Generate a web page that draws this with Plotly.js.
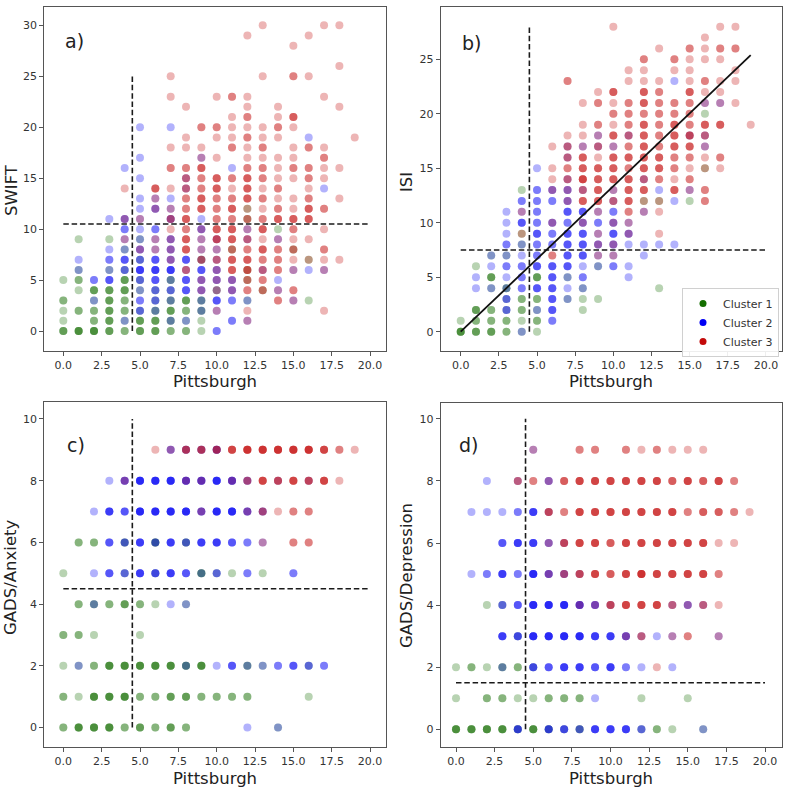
<!DOCTYPE html>
<html><head><meta charset="utf-8">
<script src="https://cdn.plot.ly/plotly-3.0.1.min.js"></script>
<style>html,body{margin:0;padding:0;background:#fff}#chart{width:789px;height:789px}</style>
</head><body><div id="chart"></div>
<script>
// ---- data: [Pittsburgh, score, count] per cluster ----
const swiftC1 = [[0,0,3],[1,0,4],[2,0,4],[3,0,3],[4,0,2],[5,0,3],[6,0,3],[7,0,2],[8,0,2],[9,0,1],
[0,1,1],[2,1,2],[3,1,3],[4,1,1],[5,1,3],[6,1,3],[7,1,2],[8,1,1],[9,1,1],
[0,2,1],[1,2,2],[2,2,2],[3,2,3],[4,2,2],[5,2,1],[6,2,2],[7,2,3],[8,2,2],[9,2,2],
[0,3,2],[2,3,1],[3,3,3],[4,3,2],[6,3,1],[7,3,2],[8,3,3],[9,3,2],[12,3,1],[16,3,1],
[1,4,1],[2,4,3],[3,4,3],[4,4,3],[5,4,1],[6,4,1],[7,4,1],[10,4,1],[13,4,1],
[0,5,1],[1,5,2],[4,5,3],[5,5,1],[7,5,2],[12,5,1],
[1,6,1],[3,6,1],[4,6,1],[12,6,1],[5,7,1],[9,7,1],[16,7,1],[4,8,1],[11,8,1],[15,8,1],
[1,9,1],[3,9,1],[5,9,1],[14,10,1],[12,11,1],[12,12,1]];
const swiftC2 = [[10,0,2],[4,1,1],[7,1,1],[8,1,1],[11,1,2],[12,1,1],
[5,2,2],[6,2,1],[9,2,1],[10,2,1],
[2,3,1],[5,3,2],[6,3,2],[7,3,1],[9,3,1],[10,3,3],[11,3,2],[12,3,1],[15,3,1],
[5,4,1],[6,4,2],[7,4,2],[8,4,3],[9,4,2],[10,4,1],[11,4,2],[14,4,1],
[2,5,2],[3,5,3],[5,5,2],[6,5,3],[7,5,1],[8,5,3],[9,5,2],[10,5,2],[11,5,2],[14,5,1],
[1,6,1],[3,6,1],[4,6,2],[5,6,4],[6,6,4],[7,6,4],[8,6,1],[9,6,3],[10,6,2],[13,6,1],[15,6,1],[16,6,1],[17,6,1],
[1,7,1],[3,7,2],[4,7,3],[5,7,2],[6,7,3],[7,7,2],[8,7,3],[9,7,1],[10,7,1],
[3,8,1],[4,8,1],[5,8,2],[6,8,1],[7,8,2],[9,8,1],[10,8,1],
[4,9,1],[5,9,1],[6,9,1],[7,9,2],[9,9,1],[10,9,1],[12,9,1],[14,9,1],
[4,10,2],[5,10,1],[6,10,2],[9,10,2],[12,10,1],
[3,11,1],[4,11,2],[5,11,1],[7,11,2],[9,11,1],
[5,12,1],[6,12,2],[7,12,1],[5,13,1],[6,13,1],[7,13,1],
[8,14,1],[17,14,1],[5,15,1],[8,15,1],[4,16,1],[11,16,1],[5,17,1],[9,17,1],[16,19,1],[5,20,1],[7,20,1]];
const swiftC3 = [[12,1,1],[10,2,1],[12,2,1],[17,2,1],[14,3,2],[15,3,1],
[9,4,1],[10,4,1],[11,4,1],[12,4,2],[13,4,2],[14,4,1],[15,4,2],
[9,5,1],[10,5,1],[11,5,1],[12,5,2],[13,5,2],
[8,6,2],[10,6,1],[11,6,3],[12,6,3],[13,6,2],[14,6,2],[15,6,1],[17,6,1],
[7,7,1],[9,7,2],[10,7,2],[11,7,3],[12,7,3],[13,7,2],[14,7,2],[15,7,1],[16,7,1],[17,7,1],[18,7,1],
[5,8,1],[6,8,1],[7,8,1],[8,8,3],[9,8,1],[10,8,1],[11,8,2],[12,8,2],[13,8,3],[14,8,2],[15,8,2],[17,8,2],
[4,9,1],[6,9,1],[7,9,1],[8,9,3],[9,9,1],[10,9,3],[11,9,3],[12,9,2],[13,9,1],[14,9,1],[15,9,1],[16,9,1],
[7,10,1],[8,10,2],[9,10,1],[10,10,3],[11,10,3],[12,10,1],[13,10,3],[15,10,2],[17,10,1],
[4,11,1],[5,11,1],[7,11,2],[8,11,3],[10,11,2],[11,11,2],[12,11,2],[13,11,2],[14,11,3],[15,11,3],[16,11,3],
[6,12,1],[7,12,1],[8,12,2],[9,12,3],[10,12,2],[11,12,3],[12,12,1],[13,12,1],[14,12,2],[15,12,1],[16,12,3],[17,12,2],
[6,13,1],[8,13,2],[9,13,3],[10,13,2],[11,13,2],[12,13,3],[13,13,2],[14,13,1],[15,13,1],[16,13,2],[18,13,1],
[4,14,1],[6,14,3],[7,14,1],[8,14,2],[9,14,2],[10,14,3],[11,14,1],[12,14,3],[13,14,1],[14,14,2],[16,14,1],
[8,15,2],[9,15,2],[10,15,3],[11,15,2],[12,15,3],[13,15,2],[14,15,1],[15,15,1],[16,15,2],[17,15,1],
[7,16,2],[8,16,2],[9,16,3],[12,16,2],[13,16,2],[14,16,1],[15,16,2],[16,16,2],[17,16,1],[18,16,1],
[9,17,1],[10,17,1],[12,17,1],[13,17,1],[14,17,1],[15,17,1],[17,17,2],
[7,18,1],[8,18,1],[9,18,1],[11,18,2],[12,18,1],[13,18,2],[15,18,1],[16,18,2],[17,18,1],
[8,19,1],[10,19,1],[11,19,1],[12,19,2],[13,19,1],[14,19,1],[19,19,1],
[9,20,2],[10,20,2],[11,20,1],[12,20,1],[13,20,1],[14,20,2],[15,20,1],
[11,21,1],[12,21,2],[14,21,1],[15,21,3],[8,22,1],[12,22,1],[14,22,1],[18,22,1],
[7,23,1],[10,23,1],[11,23,2],[12,23,1],[17,23,1],[7,25,1],[13,25,1],[15,25,2],[16,25,1],
[18,26,1],[15,28,1],[12,29,1],[16,29,1],[13,30,1],[17,30,1],[18,30,1]];

const isiC1 = [[0,0,4],[1,0,3],[2,0,3],[3,0,2],[4,0,1],[5,0,1],
[0,1,1],[1,1,2],[2,1,2],[3,1,2],[4,1,1],[5,1,2],
[1,2,3],[2,2,2],[3,2,1],[4,2,2],[5,2,1],[8,2,1],
[3,3,1],[4,3,2],[5,3,2],[7,3,1],[8,3,1],[9,3,1],
[2,4,1],[3,4,2],[8,4,1],[13,4,1],[2,5,3],[5,5,3],[7,5,1],[1,6,1],[9,6,1],[2,7,1],[3,7,1],
[4,8,1],[4,9,1],[12,12,1],[13,12,1],[15,12,1],[4,13,1],[16,15,1],[16,20,1]];
const isiC2 = [[4,0,1],[6,1,2],[3,2,2],[5,2,1],[6,2,3],[3,3,2],[6,3,3],[7,3,1],
[1,4,1],[2,4,1],[3,4,1],[4,4,2],[5,4,3],[6,4,3],[7,4,1],[8,4,1],
[1,5,1],[3,5,1],[4,5,2],[6,5,3],[7,5,1],[8,5,2],[11,5,1],
[2,6,1],[3,6,2],[4,6,2],[5,6,3],[6,6,3],[7,6,3],[8,6,1],[9,6,1],[10,6,2],[11,6,1],
[2,7,1],[3,7,1],[4,7,1],[5,7,2],[7,7,3],[8,7,3],[9,7,1],[10,7,1],[12,7,1],
[3,8,2],[4,8,1],[5,8,2],[6,8,2],[7,8,3],[8,8,3],[9,8,2],[10,8,2],[11,8,1],[12,8,1],[13,8,1],[14,8,1],
[3,9,1],[5,9,3],[6,9,2],[7,9,3],[8,9,3],[9,9,1],[10,9,3],[11,9,2],
[3,10,1],[4,10,3],[5,10,2],[6,10,2],[7,10,2],[8,10,2],[9,10,2],[10,10,2],[11,10,1],
[3,11,1],[4,11,1],[5,11,2],[7,11,3],[8,11,3],[9,11,1],[10,11,2],[12,11,1],
[4,12,2],[5,12,2],[6,12,2],[7,12,2],[10,12,1],[14,12,1],
[5,13,2],[6,13,2],[7,13,2],[8,13,1],[10,13,1],[13,13,1],[15,13,1],
[5,15,1],[7,14,1],[12,14,1],[7,16,1],[7,17,1],[8,17,1],[9,17,1],[10,17,1],[16,17,1],
[9,18,1],[11,18,1],[15,18,1],[16,18,1],[16,21,1],[17,21,1],[14,23,1]];
const isiC3 = [[6,7,2],[9,7,1],[10,7,1],[9,8,1],[10,8,1],[4,9,1],[9,9,1],[11,9,1],[13,9,1],
[6,10,1],[8,10,1],[10,10,1],[11,10,1],[4,11,1],[9,11,1],[11,11,2],[12,11,1],[13,11,1],
[7,12,1],[8,12,3],[9,12,3],[10,12,2],[11,12,3],[12,12,1],[13,12,1],[16,12,2],
[6,13,1],[7,13,1],[8,13,2],[9,13,3],[10,13,1],[11,13,3],[12,13,3],[14,13,3],[15,13,1],[16,13,2],
[6,14,1],[7,14,2],[8,14,4],[9,14,3],[10,14,3],[11,14,3],[12,14,2],[13,14,2],[14,14,1],[15,14,2],
[6,15,1],[7,15,2],[8,15,3],[9,15,3],[10,15,3],[11,15,2],[12,15,3],[13,15,3],[14,15,2],[15,15,1],[16,15,1],[17,15,1],
[7,16,2],[8,16,3],[9,16,1],[10,16,3],[11,16,3],[12,16,3],[13,16,3],[14,16,2],[15,16,2],[16,16,1],[17,16,2],
[6,17,1],[7,17,2],[8,17,1],[9,17,2],[10,17,1],[11,17,2],[12,17,3],[13,17,2],[14,17,3],[15,17,3],[16,17,1],
[7,18,1],[8,18,1],[9,18,1],[10,18,3],[11,18,2],[12,18,3],[13,18,2],[14,18,3],[15,18,3],[16,18,2],
[8,19,1],[9,19,2],[10,19,1],[11,19,2],[12,19,3],[13,19,2],[14,19,3],[15,19,2],[16,19,3],[17,19,3],[19,19,1],
[10,20,2],[11,20,2],[12,20,2],[13,20,2],[14,20,2],[15,20,2],
[8,21,1],[9,21,2],[10,21,1],[11,21,2],[12,21,3],[13,21,2],[14,21,2],[15,21,2],[16,21,1],[17,21,1],[18,21,1],
[9,22,1],[10,22,3],[12,22,3],[13,22,2],[15,22,3],[16,22,1],[17,22,1],
[7,23,2],[11,23,1],[12,23,1],[13,23,1],[15,23,1],[16,23,2],[17,23,1],[18,23,1],
[11,24,1],[12,24,1],[14,24,1],[15,24,1],[18,24,1],
[12,25,2],[14,25,2],[15,25,1],[16,25,1],[17,25,1],
[13,26,1],[15,26,2],[16,26,1],[17,26,2],[18,26,2],[16,27,1],[10,28,1],[17,28,1],[18,28,1]];

const anxC1 = [[0,0,2],[1,0,4],[2,0,4],[3,0,4],[4,0,2],[5,0,3],[6,0,2],[7,0,3],[8,0,2],[14,0,1],
[0,1,2],[1,1,1],[2,1,4],[3,1,4],[4,1,4],[5,1,2],[6,1,2],[7,1,3],[8,1,3],[9,1,2],[10,1,2],[11,1,2],[12,1,2],[16,1,1],
[0,2,1],[1,2,1],[2,2,2],[3,2,4],[4,2,4],[5,2,4],[6,2,4],[7,2,4],[8,2,3],[9,2,4],[12,2,2],[13,2,1],[16,2,1],
[0,3,2],[1,3,2],[2,3,1],[5,3,1],
[1,4,2],[2,4,2],[3,4,2],[4,4,3],[5,4,2],[6,4,1],[8,4,1],
[0,5,1],[4,5,1],[6,5,1],[9,5,3],[10,5,1],[11,5,1],[13,5,1],
[1,6,2],[2,6,2],[4,6,2],[6,6,3],[8,6,2]];
const anxC2 = [[12,0,1],[14,0,1],
[1,2,1],[8,2,1],[10,2,1],[11,2,3],[12,2,1],[13,2,1],[14,2,2],[15,2,3],[16,2,2],[17,2,2],
[2,4,1],[7,4,1],[8,4,1],
[2,5,1],[3,5,3],[4,5,2],[5,5,4],[6,5,3],[7,5,4],[8,5,3],[9,5,1],[10,5,2],[12,5,2],[15,5,2],
[3,6,3],[4,6,2],[5,6,4],[6,6,2],[7,6,4],[8,6,2],[9,6,4],[10,6,4],[11,6,3],[12,6,2],[13,6,1],
[2,7,1],[3,7,4],[4,7,3],[5,7,5],[6,7,5],[7,7,5],[8,7,5],[9,7,3],[10,7,5],[11,7,5],[12,7,3],[13,7,2],
[3,8,1],[4,8,3],[5,8,5],[6,8,5],[7,8,5],[8,8,4],[9,8,4],[10,8,5],[11,8,4],[12,8,2],[14,8,1],[16,8,1],
[7,9,2],[8,9,2],[9,9,2],[10,9,3]];
const anxC3 = [[13,6,1],[15,6,2],[16,6,2],
[9,7,1],[12,7,1],[13,7,2],[14,7,1],[15,7,2],[16,7,2],
[4,8,1],[8,8,1],[9,8,1],[11,8,1],[12,8,2],[13,8,4],[14,8,3],[15,8,4],[16,8,3],[17,8,4],[18,8,1],
[6,9,1],[7,9,1],[8,9,3],[9,9,3],[10,9,3],[11,9,4],[12,9,5],[13,9,5],[14,9,5],[15,9,5],[16,9,5],[17,9,4],[18,9,2],[19,9,1]];

const depC1 = [[0,0,4],[1,0,4],[2,0,4],[3,0,4],[4,0,2],[5,0,4],[6,0,2],[7,0,1],[8,0,2],[12,0,1],[13,0,2],[14,0,1],[16,0,1],
[0,1,1],[2,1,2],[3,1,2],[4,1,1],[5,1,1],[6,1,2],[7,1,2],[8,1,2],[12,1,1],[15,1,1],
[0,2,1],[1,2,2],[2,2,1],[3,2,2],[4,2,2],[5,2,1],[2,4,1],[3,4,1],[4,3,1]];
const depC2 = [[4,0,3],[6,0,3],[7,0,3],[8,0,2],[9,0,4],[10,0,4],[11,0,4],[12,0,2],[16,0,1],[9,1,1],
[3,2,1],[5,2,3],[6,2,3],[7,2,4],[8,2,4],[9,2,3],[10,2,4],[11,2,2],[12,2,1],[14,2,1],
[3,3,4],[4,3,3],[5,3,5],[6,3,5],[7,3,5],[8,3,5],[9,3,4],[10,3,4],[11,3,3],[12,3,1],[13,3,1],[14,3,1],[17,3,1],
[3,4,2],[4,4,3],[5,4,5],[6,4,5],[7,4,5],[8,4,4],[9,4,3],[10,4,1],[14,4,1],[15,4,2],[16,4,1],
[1,5,1],[2,5,2],[3,5,4],[4,5,2],[5,5,5],[6,5,3],[7,5,2],[8,5,1],
[3,6,3],[4,6,4],[5,6,4],[6,6,2],[7,6,1],
[1,7,1],[2,7,1],[3,7,1],[4,7,2],[5,7,4],[6,7,1],[2,8,1],[4,8,1],[6,8,2],[5,9,1]];
const depC3 = [[13,2,1],[11,3,1],[12,3,2],[14,3,1],[15,3,2],[17,3,1],
[8,4,1],[9,4,1],[10,4,3],[11,4,4],[12,4,4],[13,4,4],[14,4,2],[15,4,1],[16,4,2],[17,4,1],
[6,5,1],[7,5,2],[8,5,3],[9,5,4],[10,5,3],[11,5,4],[12,5,5],[13,5,4],[14,5,4],[15,5,4],[16,5,4],[17,5,2],
[6,6,1],[7,6,3],[8,6,4],[9,6,4],[10,6,3],[11,6,4],[12,6,4],[13,6,4],[14,6,4],[15,6,4],[16,6,4],[17,6,1],[18,6,1],
[6,7,3],[7,7,2],[8,7,4],[9,7,4],[10,7,4],[11,7,4],[12,7,4],[13,7,4],[14,7,4],[15,7,2],[16,7,3],[17,7,3],[18,7,2],[19,7,1],
[4,8,2],[5,8,2],[6,8,1],[7,8,3],[8,8,4],[9,8,4],[10,8,4],[11,8,4],[12,8,4],[13,8,4],[14,8,3],[15,8,4],[16,8,3],[17,8,4],[18,8,2],
[5,9,1],[8,9,2],[9,9,2],[11,9,2],[12,9,1],[13,9,2],[14,9,1],[15,9,1],[16,9,1]];

const panelLabels = ['a)','b)','c)','d)'];
const yTitles = ['SWIFT','ISI','GADS/Anxiety','GADS/Depression'];
const xTitle = 'Pittsburgh';
const clusterNames = ['Cluster 1','Cluster 2','Cluster 3'];
const vCut = [4.5, 4.5, 4.5, 4.5];
const vTop = [25, 28, 10, 10];
const hCut = [10.5, 7.5, 4.5, 1.5];
const hEnd = [20, 20, 20, 20];
const fitX = [0, 19];
const fitSlope = 1.336, fitIntercept = 0;

const panels = [[swiftC1,swiftC2,swiftC3],[isiC1,isiC2,isiC3],[anxC1,anxC2,anxC3],[depC1,depC2,depC3]];
const baseCol = ['20,110,0','0,0,245','195,10,10'];
const alpha = 0.3;

const traces = [];
panels.forEach((cl, p) => {
  const ax = p === 0 ? '' : String(p + 1);
  cl.forEach((pts, c) => {
    const xs = [], ys = [];
    pts.forEach(([x, y, n]) => { for (let k = 0; k < n; k++) { xs.push(x); ys.push(y); } });
    traces.push({type:'scatter', mode:'markers', x:xs, y:ys, xaxis:'x'+ax, yaxis:'y'+ax, showlegend:false, hoverinfo:'skip',
      marker:{size:8, color:'rgba('+baseCol[c]+','+alpha+')', line:{width:0}}});
  });
  traces.push({type:'scatter', mode:'lines', x:[vCut[p], vCut[p]], y:[0, vTop[p]], xaxis:'x'+ax, yaxis:'y'+ax, showlegend:false,
    line:{color:'#1a1a1a', width:1.6, dash:'5.5px,2.8px'}});
  traces.push({type:'scatter', mode:'lines', x:[0, hEnd[p]], y:[hCut[p], hCut[p]], xaxis:'x'+ax, yaxis:'y'+ax, showlegend:false,
    line:{color:'#1a1a1a', width:1.6, dash:'5.5px,2.8px'}});
  if (p === 1) {
    traces.push({type:'scatter', mode:'lines', x:fitX, y:fitX.map(v => fitIntercept + fitSlope * v), xaxis:'x2', yaxis:'y2', showlegend:false,
      line:{color:'#111', width:1.8}});
    clusterNames.forEach((nm, c) => traces.push({type:'scatter', mode:'markers', x:[null], y:[null], xaxis:'x2', yaxis:'y2', name:nm,
      marker:{size:7, color:'rgb('+baseCol[c]+')'}}));
  }
});

const W = 789;
const fx = v => v / W, fy = v => 1 - v / W;
const axBase = {showline:true, mirror:true, linecolor:'#555', linewidth:1, ticks:'outside', ticklen:4, tickwidth:1, tickcolor:'#555',
  showgrid:false, zeroline:false, tickfont:{family:'DejaVu Sans', size:11, color:'#333'}, fixedrange:true};
const xTick = {tickmode:'linear', tick0:0, dtick:2.5, tickformat:'.1f'};
const xDom = [[44.3,385.7],[440.7,781.7],[44.3,385.7],[440.7,781.7]];
const yDom = [[6.7,351],[6.7,351],[402.3,746.7],[403.3,746.7]];
const xRng = [[-1.24,21.02],[-1.31,21.03],[-1.24,21.02],[-0.99,21.08]];
const yRng = [[-1.96,31.83],[-1.77,29.83],[-0.62,10.54],[-0.56,10.5]];
const yDt = [5, 5, 2, 2];

const layout = {width:789, height:789, margin:{l:0,r:0,t:0,b:0}, paper_bgcolor:'#fff', plot_bgcolor:'#fff',
  font:{family:'DejaVu Sans', color:'#222'}, annotations:[],
  legend:{x:fx(682), y:fy(288), xanchor:'left', yanchor:'top', bgcolor:'rgba(255,255,255,0.9)', bordercolor:'#d0d0d0', borderwidth:1,
    font:{family:'DejaVu Sans', size:11, color:'#333'}}};
for (let p = 0; p < 4; p++) {
  const s = p === 0 ? '' : String(p + 1);
  layout['xaxis'+s] = Object.assign({}, axBase, xTick, {domain:[fx(xDom[p][0]), fx(xDom[p][1])], range:xRng[p], anchor:'y'+s});
  layout['yaxis'+s] = Object.assign({}, axBase, {tickmode:'linear', tick0:0, dtick:yDt[p], domain:[fy(yDom[p][1]), fy(yDom[p][0])], range:yRng[p], anchor:'x'+s});
}
const xtPos = [[215,381],[611,381],[215,778],[611,778]];
const ytPos = [[11,190],[406,182],[10,577],[406,576]];
const lbPos = [[63,41],[460,43],[65,445],[457,445]];
for (let p = 0; p < 4; p++) {
  layout.annotations.push({text:xTitle, xref:'paper', yref:'paper', x:fx(xtPos[p][0]), y:fy(xtPos[p][1]), xanchor:'center', yanchor:'middle', showarrow:false,
    font:{family:'DejaVu Sans', size:16.5, color:'#222'}});
  layout.annotations.push({text:yTitles[p], xref:'paper', yref:'paper', x:fx(ytPos[p][0]), y:fy(ytPos[p][1]), xanchor:'center', yanchor:'middle', textangle:-90, showarrow:false,
    font:{family:'DejaVu Sans', size:16.5, color:'#222'}});
  layout.annotations.push({text:panelLabels[p], xref:'paper', yref:'paper', x:fx(lbPos[p][0]), y:fy(lbPos[p][1]), xanchor:'left', yanchor:'middle', showarrow:false,
    font:{family:'DejaVu Sans', size:19, color:'#222'}});
}
Plotly.newPlot('chart', traces, layout, {staticPlot:true, displayModeBar:false});
</script></body></html>
